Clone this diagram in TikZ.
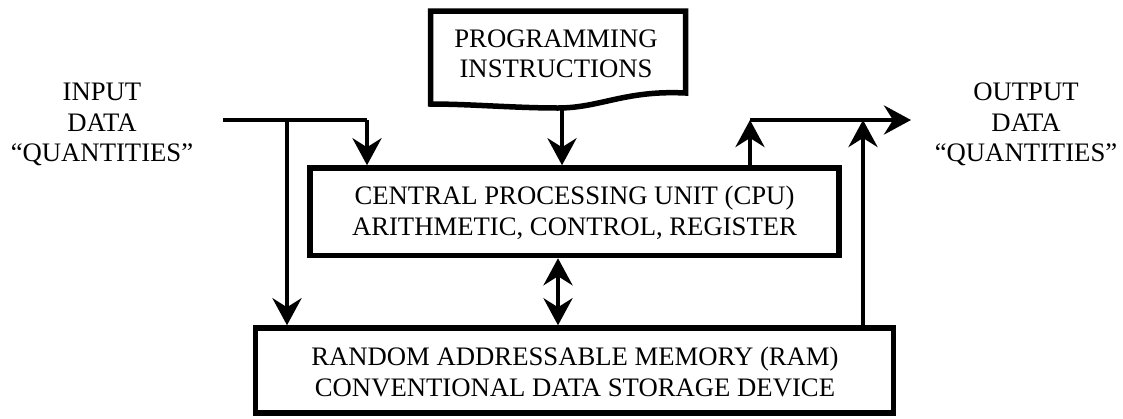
\documentclass[tikz,border=0pt]{standalone}
\usepackage{fontspec}
\setmainfont{Liberation Serif}
\usetikzlibrary{arrows.meta,calc}
\begin{document}
\begin{tikzpicture}[x=1pt,y=-1pt,
  every node/.style={font=\fontsize{26.7pt}{30.5pt}\selectfont, align=center},
  block/.style={draw, line width=5.5pt, inner sep=0pt},
  tip/.tip={Stealth[length=27pt,width=29pt,inset=9pt]},
  flow/.style={line width=4.3pt, -tip},
  bothway/.style={line width=4.3pt, tip-tip},
  plain/.style={line width=4.3pt}]
\useasboundingbox (0,0) rectangle (1123,418);

% program instructions: document shape with wavy bottom edge
\draw[line width=5.5pt, line join=miter]
  (430.5,11) -- (685.5,11) -- (685.5,93)
  .. controls (625,90) and (600,108) .. (558,108)
  .. controls (515,108) and (470,104) .. (430.5,104) -- cycle;
\node (prog) at (556,54) {PROGRAMMING\\INSTRUCTIONS};
\coordinate (progout) at (562,107);

% processing unit and memory
\node[block, minimum width=529pt, minimum height=87.5pt] (cpu) at (574.5,211.75) {};
\node (cputext) at (574.5,213)
  {CENTRAL PROCESSING UNIT (CPU)\\ARITHMETIC, CONTROL, REGISTER};
\node[block, minimum width=638pt, minimum height=85pt] (ram) at (574.5,370.5) {};
\node (ramtext) at (575,372)
  {RANDOM ADDRESSABLE MEMORY (RAM)\\CONVENTIONAL DATA STORAGE DEVICE};

% side labels
\node (in) at (102,124.5) {INPUT\\DATA\\“QUANTITIES”};
\node (out) at (1026,124.5) {OUTPUT\\DATA\\“QUANTITIES”};

% junction points
\coordinate (instart) at (223,120);
\coordinate (inbranch) at (287,120);
\coordinate (incorner) at (367,120);
\coordinate (outcorner) at (750,120);
\coordinate (outjoin) at (863,120);
\coordinate (outend) at (911,120);

% input data paths
\draw[plain] (instart) -- (incorner);
\draw[flow] (incorner) -- (incorner |- cpu.north);
\draw[flow] (inbranch) -- (inbranch |- ram.north);

% instructions into the CPU
\draw[flow] (progout) -- (progout |- cpu.north);

% CPU <-> memory
\draw[bothway] (558,0 |- cpu.south) -- (558,0 |- ram.north);

% output data paths
\draw[flow] (outcorner |- cpu.north) -- (outcorner);
\draw[flow] (outcorner) -- (outend);
\draw[flow] (outjoin |- ram.north) -- (outjoin);
\end{tikzpicture}
\end{document}
